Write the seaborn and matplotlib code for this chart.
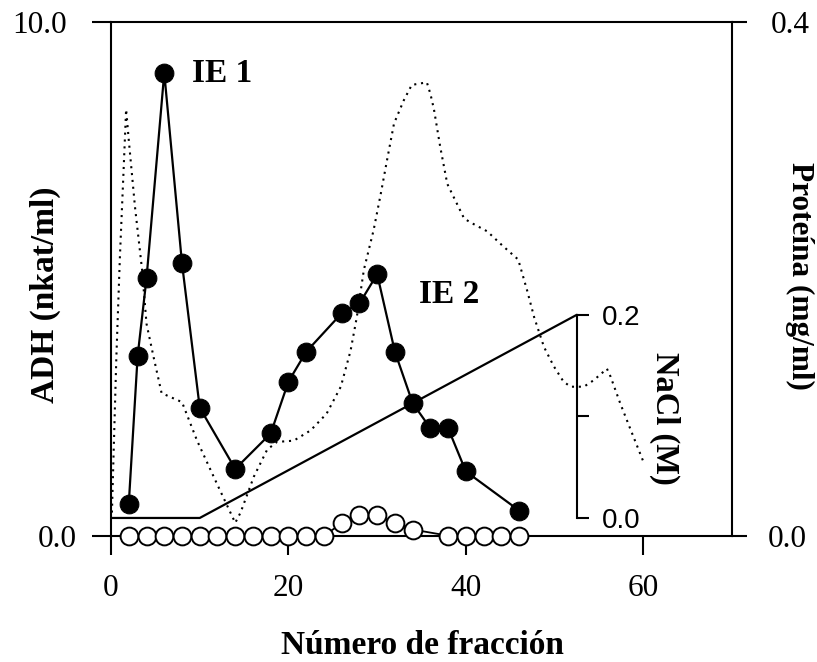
import matplotlib
matplotlib.use("Agg")
import matplotlib.pyplot as plt
import seaborn as sns

# ADH activity (nkat/ml) of the eluted fractions, filled circles
adh_frac = [2, 3, 4, 6, 8, 10, 14, 18, 20, 22, 26, 28, 30, 32, 34, 36, 38, 40, 46]
adh_act = [0.62, 3.50, 5.01, 9.01, 5.30, 2.49, 1.30, 1.99, 3.00, 3.58,
           4.33, 4.52, 5.09, 3.58, 2.58, 2.09, 2.09, 1.25, 0.49]

# second activity series, open circles
open_frac = [2, 4, 6, 8, 10, 12, 14, 16, 18, 20, 22, 24, 26, 28, 30, 32, 34,
             38, 40, 42, 44, 46]
open_act = [0, 0, 0, 0, 0, 0, 0, 0, 0, 0, 0, 0, 0.24, 0.40, 0.40, 0.24, 0.12,
            0, 0, 0, 0, 0]

# protein profile (mg/ml), dotted trace
prot_frac = [0.1, 0.6, 1.0, 1.4, 1.7, 2.0, 2.7, 3.5, 4.0, 4.8, 5.7, 8.0, 9.7,
             11.9, 14.0, 14.6, 16.1, 17.6, 18.7, 20.6, 22.5, 24.3, 25.9, 27.0,
             27.7, 28.5, 29.6, 30.4, 31.1, 31.9, 33.0, 33.9, 35.6, 36.0, 36.4,
             37.1, 37.9, 38.6, 39.8, 40.5, 42.4, 44.1, 45.9, 46.9, 47.7, 48.8,
             49.9, 51.0, 51.8, 53.3, 54.4, 55.9, 56.3, 57.4, 58.6, 60.1]
prot_conc = [0.018, 0.139, 0.217, 0.282, 0.332, 0.308, 0.256, 0.207, 0.165,
             0.139, 0.111, 0.104, 0.074, 0.041, 0.010, 0.018, 0.046, 0.067,
             0.073, 0.074, 0.082, 0.095, 0.116, 0.144, 0.170, 0.207, 0.238,
             0.266, 0.292, 0.321, 0.339, 0.351, 0.353, 0.344, 0.332, 0.303,
             0.274, 0.264, 0.247, 0.244, 0.237, 0.226, 0.215, 0.191, 0.170,
             0.147, 0.132, 0.120, 0.116, 0.116, 0.121, 0.130, 0.124, 0.103,
             0.082, 0.056]

# NaCl gradient (M)
nacl_frac = [0, 10, 52.5]
nacl_conc = [0.0, 0.0, 0.2]

adh_ticks = [0, 10]
adh_ticklabels = ["0.0", "10.0"]
prot_ticks = [0, 0.4]
prot_ticklabels = ["0.0", "0.4"]
frac_ticks = [0, 20, 40, 60]
nacl_ticks = [0, 0.1, 0.2]
nacl_ticklabels = ["0.0", "", "0.2"]

sns.set_style("ticks")
plt.rcParams["font.family"] = ["Liberation Serif", "DejaVu Serif"]
plt.rcParams.update({
    "axes.linewidth": 1.5,
    "axes.edgecolor": "black",
    "text.color": "black",
    "axes.labelcolor": "black",
    "xtick.color": "black",
    "ytick.color": "black",
})

fig = plt.figure(figsize=(8.17, 6.62), dpi=100)
ax = fig.add_axes([0.1359, 0.1908, 0.7601, 0.776])
ax2 = ax.twinx()
ax3 = ax.twinx()

# protein trace on the right axis
sns.lineplot(x=prot_frac, y=prot_conc, ax=ax2, color="black", lw=1.5,
             linestyle=(0, (1, 2.3)), dash_capstyle="butt")

# NaCl gradient on its own inner scale
sns.lineplot(x=nacl_frac, y=nacl_conc, ax=ax3, color="black", lw=1.6)

# activity series
sns.lineplot(x=open_frac, y=open_act, ax=ax, color="black", lw=1.3,
             marker="o", markersize=12.8, markerfacecolor="white",
             markeredgecolor="black", markeredgewidth=1.4, clip_on=False,
             zorder=3)
sns.lineplot(x=adh_frac, y=adh_act, ax=ax, color="black", lw=1.6,
             marker="o", markersize=13.5, markerfacecolor="black",
             markeredgecolor="black", clip_on=False, zorder=4)

for a in (ax, ax2, ax3):
    a.set_xlim(0, 70)
    a.patch.set_visible(False)
ax.set_zorder(3)
ax2.set_zorder(2)
ax3.set_zorder(1)

ax.set_ylim(0, 10)
ax2.set_ylim(0, 0.4)
# inner NaCl scale: 0 M sits just above the baseline, 0.2 M at ~4.3 activity units
ax3.set_ylim(-0.01745, 0.4883)

# main axes frame
ax.spines["right"].set_visible(False)
for s in ("left", "top", "bottom"):
    ax2.spines[s].set_visible(False)
    ax3.spines[s].set_visible(False)
ax2.spines["right"].set_linewidth(1.5)
ax3.spines["right"].set_position(("data", 52.56))
ax3.spines["right"].set_bounds(0, 0.2)
ax3.spines["right"].set_linewidth(1.5)

ax.set_xticks(frac_ticks)
ax.set_xticklabels([str(t) for t in frac_ticks])
ax.set_yticks(adh_ticks)
ax.set_yticklabels(adh_ticklabels)
ax2.set_yticks(prot_ticks)
ax2.set_yticklabels(prot_ticklabels)
ax3.set_yticks(nacl_ticks)
ax3.set_yticklabels(nacl_ticklabels, family="Liberation Sans", fontsize=20)

ax.tick_params(axis="both", direction="out", length=13.5, width=1.5,
               labelsize=22.5)
ax.tick_params(axis="x", pad=14)
ax2.tick_params(axis="y", direction="out", length=11, width=1.5,
                labelsize=22.5)
ax3.tick_params(axis="y", direction="out", length=8.5, width=1.5, pad=9)

yt = ax.yaxis.get_major_ticks()
yt[0].set_pad(11)
yt[1].set_pad(18)
rt = ax2.yaxis.get_major_ticks()
rt[0].set_pad(15)
rt[1].set_pad(17)

lab = dict(fontsize=24, fontweight="bold")
ax.set_xlabel("Número de fracción", **lab)
ax.xaxis.set_label_coords(0.502, -0.213)
ax.xaxis.label.set_va("center")
ax.set_ylabel("ADH (nkat/ml)", **lab)
ax.yaxis.set_label_coords(-0.106, 0.469)
ax.yaxis.label.set_va("center")
ax2.set_ylabel("Proteína (mg/ml)", rotation=270, fontsize=22.5,
               fontweight="bold")
ax2.yaxis.set_label_coords(1.109, 0.506)
ax2.yaxis.label.set_va("center")
ax3.set_ylabel("")

ax.text(62.4, 2.28, "NaCl (M)", rotation=270, ha="center", va="center",
        fontsize=23.5, fontweight="bold")
ax.text(9.14, 8.83, "IE 1", ha="left", va="baseline", fontsize=24,
        fontweight="bold")
ax.text(34.68, 4.52, "IE 2", ha="left", va="baseline", fontsize=24,
        fontweight="bold")

fig.savefig("out.png", dpi=100)
